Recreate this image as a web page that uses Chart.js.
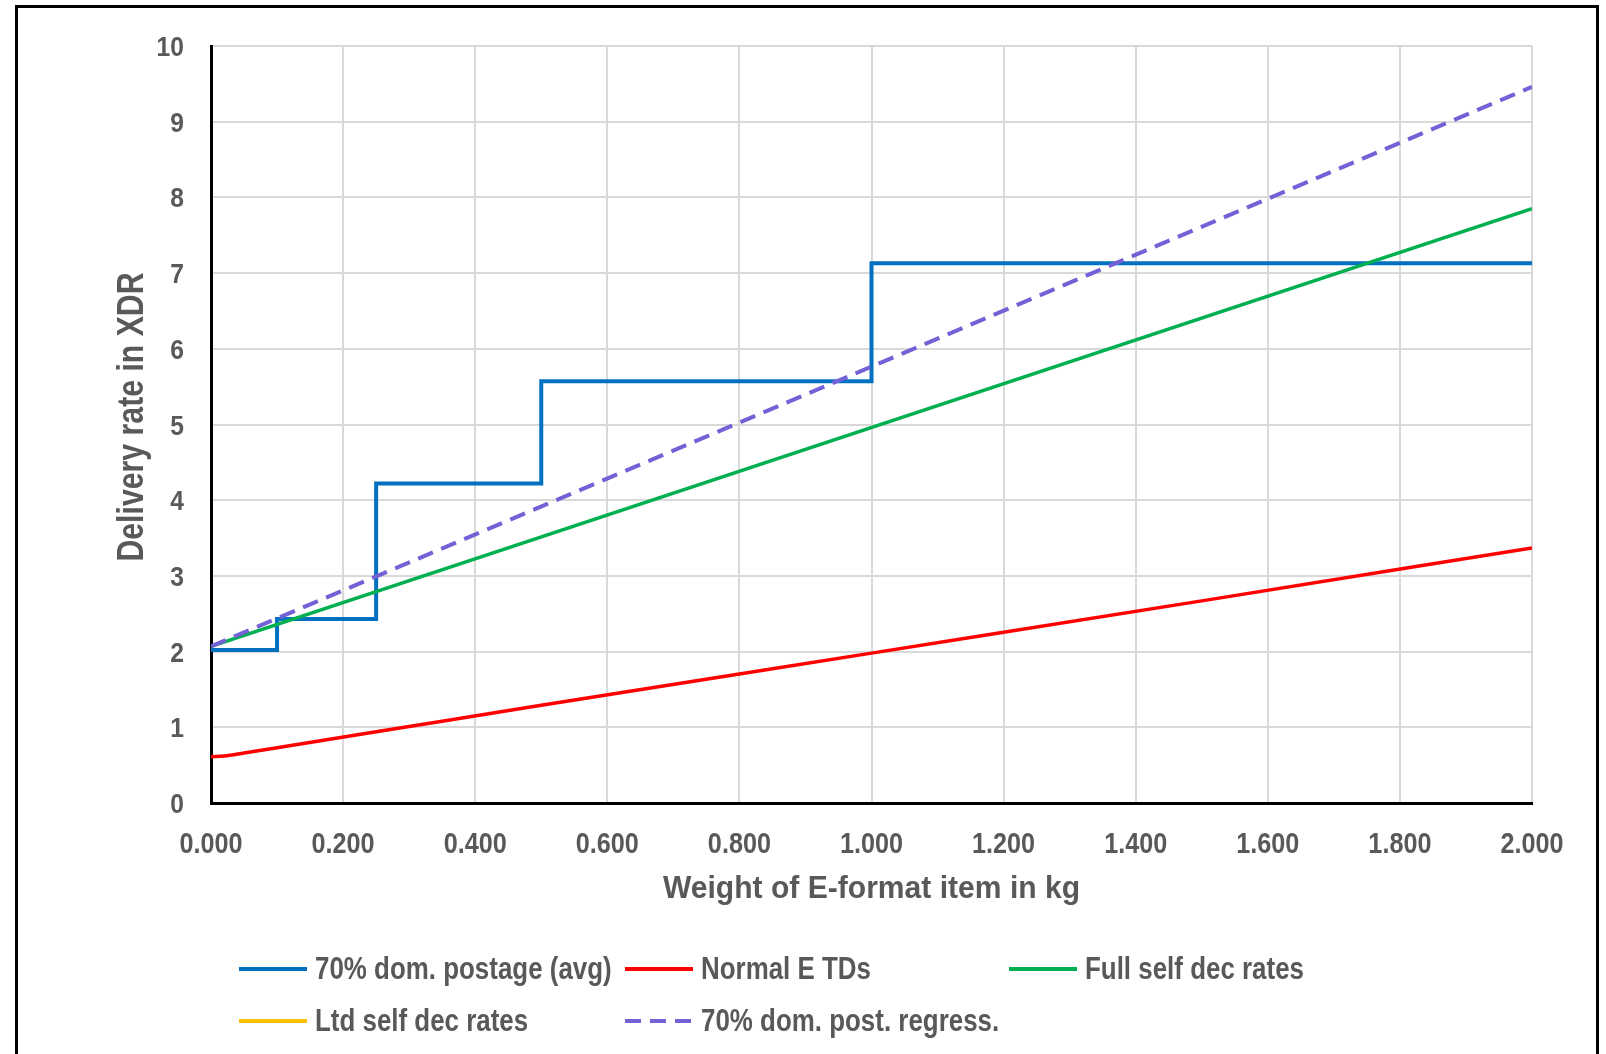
<!DOCTYPE html>
<html>
<head>
<meta charset="utf-8">
<script src="https://cdn.jsdelivr.net/npm/chart.js@4.4.1/dist/chart.umd.min.js"></script>
<style>
  html, body { margin: 0; padding: 0; background: #fff; overflow: hidden; }
  #wrap { position: relative; width: 1606px; height: 1054px; }
  #frame { position: absolute; left: 15px; top: 5px; width: 1584px; height: 1100px; border: 3px solid #000; box-sizing: border-box; }
  #chart { position: absolute; left: 0; top: 0; }
</style>
</head>
<body>
<div id="wrap">
  <div id="frame"></div>
  <canvas id="chart" width="1606" height="1054"></canvas>
</div>
<script>
// weights in kg where the postage bands change
var bandWeights = [0, 0.1, 0.25, 0.5, 1.0, 2.0];
var postageAvg = [2.02, 2.43, 4.22, 5.57, 7.13, 7.13];

// normal E terminal dues
var tdWeights = [0, 0.02, 0.05, 0.1, 0.25, 0.5, 1.0, 1.5, 2.0];
var normalETDs = [0.61, 0.62, 0.66, 0.73, 0.94, 1.29, 1.98, 2.67, 3.37];

// self declared rates
var lineWeights = [0, 2.0];
var fullSelfDec = [2.07, 7.85];
var ltdSelfDec = [];           // nothing visible on the chart
var postRegress = [2.07, 9.46];

var xTicks = [0, 0.2, 0.4, 0.6, 0.8, 1.0, 1.2, 1.4, 1.6, 1.8, 2.0];
var yTicks = [0, 1, 2, 3, 4, 5, 6, 7, 8, 9, 10];

var seriesNames = ['70% dom. postage (avg)', 'Normal E TDs', 'Full self dec rates', 'Ltd self dec rates', '70% dom. post. regress.'];
var xTitle = 'Weight of E-format item in kg';
var yTitle = 'Delivery rate in XDR';

function pts(xs, ys) {
    return ys.map(function (y, i) { return { x: xs[i], y: y }; });
}

var FONT = "'Liberation Sans', Arial, sans-serif";
var GREY = '#595959';

// no narrow font installed, so squeeze the text horizontally
function narrowText(ctx, text, x, y, size, sx, align, rot) {
    ctx.save();
    ctx.translate(x, y);
    if (rot) ctx.rotate(rot);
    ctx.scale(sx, 1);
    ctx.font = 'bold ' + size + 'px ' + FONT;
    ctx.fillStyle = GREY;
    ctx.textAlign = align;
    ctx.textBaseline = 'alphabetic';
    ctx.fillText(text, 0, 0);
    ctx.restore();
}

var textLayer = {
    id: 'textLayer',
    afterDraw: function (chart) {
        var ctx = chart.ctx;
        var xs = chart.scales.x, ys = chart.scales.y;

        xTicks.forEach(function (v) {
            narrowText(ctx, v.toFixed(3), xs.getPixelForValue(v), 853, 30, 0.84, 'center');
        });
        yTicks.forEach(function (v) {
            narrowText(ctx, String(v), 184, ys.getPixelForValue(v) + 10, 28, 0.88, 'right');
        });
        narrowText(ctx, xTitle, (chart.chartArea.left + chart.chartArea.right) / 2, 898, 31, 0.97, 'center');
        narrowText(ctx, yTitle, 143, 417, 36, 0.84, 'center', -Math.PI / 2);

        // legend laid out like the Excel one (3 columns, 2 rows)
        var cols = [239, 625, 1009];
        var rows = [969, 1021];
        chart.data.datasets.forEach(function (ds, i) {
            var x = cols[i % 3];
            var y = rows[Math.floor(i / 3)];
            ctx.save();
            ctx.strokeStyle = ds.borderColor;
            ctx.lineWidth = 4;
            ctx.setLineDash(ds.borderDash || []);
            ctx.beginPath();
            ctx.moveTo(x, y);
            ctx.lineTo(x + 68, y);
            ctx.stroke();
            ctx.restore();
            narrowText(ctx, ds.label, x + 76, y + 10, 32, 0.81, 'left');
        });
    }
};

var ctx = document.getElementById('chart').getContext('2d');
var chart = new Chart(ctx, {
    type: 'line',
    data: {
        datasets: [{
            label: seriesNames[0],
            data: pts(bandWeights, postageAvg),
            borderColor: '#0070c0',
            borderWidth: 4,
            stepped: 'before',
            order: 5
        }, {
            label: seriesNames[1],
            data: pts(tdWeights, normalETDs),
            borderColor: '#ff0000',
            borderWidth: 3.5,
            cubicInterpolationMode: 'monotone',
            order: 4
        }, {
            label: seriesNames[2],
            data: pts(lineWeights, fullSelfDec),
            borderColor: '#00b050',
            borderWidth: 3.5,
            order: 3
        }, {
            label: seriesNames[3],
            data: pts(lineWeights, ltdSelfDec),
            borderColor: '#ffc000',
            borderWidth: 3.5,
            order: 2
        }, {
            label: seriesNames[4],
            data: pts(lineWeights, postRegress),
            borderColor: '#7461d6',
            borderWidth: 4,
            borderDash: [16, 9],
            order: 1
        }]
    },
    options: {
        responsive: false,
        animation: false,
        layout: { padding: { left: 100, right: 74, top: 46, bottom: 141 } },
        elements: { point: { radius: 0 }, line: { fill: false } },
        scales: {
            x: {
                type: 'linear',
                min: 0,
                max: 2,
                afterFit: function (s) { s.height = 110; },
                afterBuildTicks: function (s) { s.ticks = xTicks.map(function (v) { return { value: v }; }); },
                grid: { color: '#d9d9d9', lineWidth: 2, drawTicks: false },
                border: { color: '#000', width: 3 },
                ticks: { display: false }
            },
            y: {
                min: 0,
                max: 10,
                afterFit: function (s) { s.width = 111; },
                afterBuildTicks: function (s) { s.ticks = yTicks.map(function (v) { return { value: v }; }); },
                grid: { color: '#d9d9d9', lineWidth: 2, drawTicks: false },
                border: { color: '#000', width: 3 },
                ticks: { display: false }
            }
        },
        plugins: {
            legend: { display: false },
            tooltip: { enabled: false }
        }
    },
    plugins: [textLayer]
});
</script>
</body>
</html>
